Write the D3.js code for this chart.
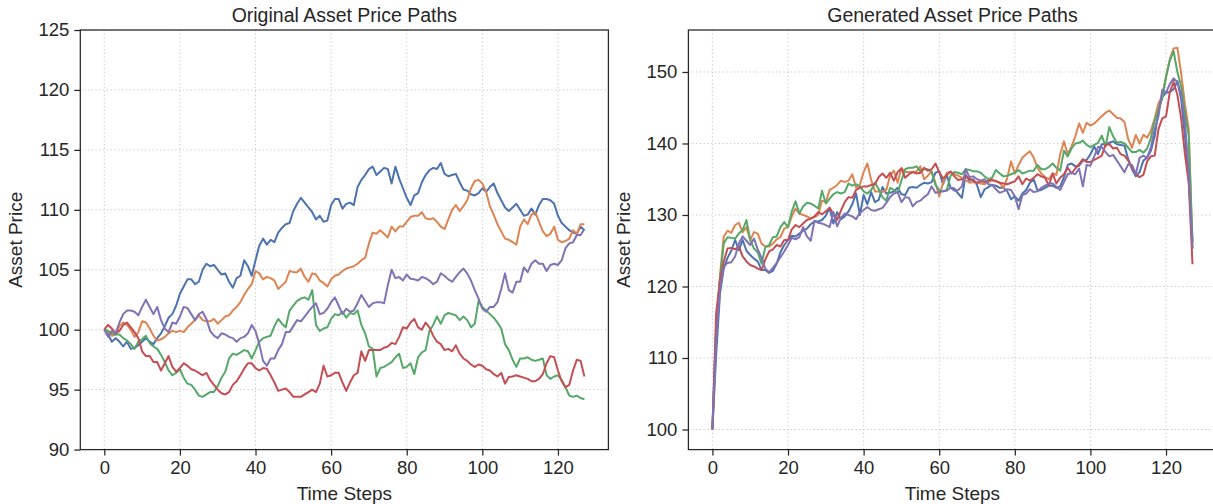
<!DOCTYPE html>
<html>
<head>
<meta charset="utf-8">
<script src="https://cdn.jsdelivr.net/npm/d3@7"></script>
<style>
  body { margin: 0; background: #fff; }
  svg { display: block; font-family: "Liberation Sans", Arial, sans-serif; }
</style>
</head>
<body>
<svg id="chart" width="1213" height="504"></svg>
<script>
// seaborn "deep" palette
var colors = ["#4C72B0", "#DD8452", "#55A868", "#C44E52", "#8172B3"];

// ---- Original paths, index = time step ----
var origBlue = [100.0,99.6,99.0,99.3,99.0,98.6,99.0,98.4,98.5,98.7,99.0,99.3,99.0,98.8,99.3,99.7,100.3,101.0,101.3,102.0,
  103.0,103.6,104.2,104.2,103.8,104.0,105.0,105.5,105.3,105.4,105.0,104.6,104.7,104.0,103.5,104.3,104.5,105.8,105.3,104.5,
  105.8,107.0,107.6,107.1,107.5,107.3,108.1,108.5,108.8,108.9,109.9,110.5,111.0,110.6,110.2,109.8,109.2,109.5,109.0,109.1,
  110.4,110.9,110.9,110.1,110.5,110.6,110.4,111.9,112.5,112.9,113.4,113.6,112.9,113.2,113.5,113.4,112.2,113.6,112.6,111.8,
  111.0,110.4,111.2,111.4,112.3,112.9,113.3,113.5,113.4,113.9,113.0,112.8,112.9,113.0,112.3,111.7,111.6,111.3,111.2,111.4,
  111.8,111.5,111.9,112.2,111.4,110.8,110.2,109.9,110.2,110.5,110.0,109.5,109.6,110.1,109.6,110.4,110.9,110.9,110.8,110.5,
  109.5,108.9,108.6,108.3,108.1,108.0,108.6,108.3];
var origOrange = [100.0,99.8,99.5,99.6,100.3,100.6,100.4,100.0,99.4,99.8,100.7,100.6,100.1,99.5,99.1,99.2,99.4,99.7,99.9,99.8,
  99.9,99.8,100.2,100.5,100.8,101.2,100.8,100.7,100.7,100.9,100.5,100.8,101.1,101.2,101.6,101.9,102.3,102.9,103.4,103.8,
  104.9,104.7,104.2,104.4,104.3,104.1,103.4,103.7,104.0,104.9,104.8,104.8,105.1,104.4,104.0,104.7,104.6,104.1,103.9,103.6,
  104.2,104.5,104.6,104.9,105.1,105.2,105.3,105.5,105.8,106.0,107.2,108.1,108.0,108.3,108.0,107.7,108.6,108.2,108.6,108.6,
  109.0,109.4,109.5,109.5,109.8,109.3,109.2,109.3,109.0,108.6,108.4,109.2,110.0,110.4,109.9,110.3,110.8,111.8,112.4,112.5,
  112.2,111.5,110.3,109.6,108.8,108.2,107.6,107.5,107.3,107.1,108.6,109.2,108.8,109.6,109.8,109.0,108.2,107.8,108.0,108.6,
  107.5,107.3,107.4,107.6,108.3,108.0,108.8,108.8];
var origGreen = [100.0,99.9,99.7,99.6,99.6,99.3,99.1,98.8,98.4,99.0,99.2,99.5,98.9,98.6,98.4,97.9,97.3,96.6,96.2,96.4,
  96.7,96.0,95.5,95.4,95.0,94.5,94.4,94.6,94.8,94.8,95.3,96.0,96.5,97.6,98.0,97.9,98.1,98.3,98.2,97.6,
  98.3,99.0,99.3,99.4,99.5,100.3,100.9,100.5,100.2,101.6,102.0,102.4,102.6,102.7,102.5,103.3,100.4,99.9,100.1,100.2,
  100.9,101.3,101.2,101.5,101.0,101.4,101.3,101.6,100.4,99.7,98.6,98.4,96.1,96.8,96.9,97.1,97.3,97.7,98.0,96.8,
  96.9,97.2,96.3,97.7,98.1,98.3,99.9,100.4,101.1,100.5,101.2,101.4,101.3,101.2,100.8,101.1,100.8,100.2,100.5,102.4,
  101.9,101.6,101.3,101.0,100.6,100.1,98.8,98.3,97.5,96.9,97.6,97.6,97.7,97.5,97.4,97.5,97.6,96.2,95.9,96.1,
  96.2,95.8,95.2,94.5,94.4,94.5,94.3,94.2];
var origRed = [100.0,100.4,100.1,99.7,99.9,100.4,100.6,100.2,99.8,99.3,98.2,97.8,97.8,97.3,97.3,96.6,97.2,97.8,96.9,96.5,
  96.8,97.2,97.0,96.7,96.6,96.4,96.2,96.4,95.8,95.4,95.0,94.7,94.6,94.8,95.4,95.7,96.2,96.75,97.2,97.2,
  96.8,96.6,96.8,96.75,96.2,95.6,94.9,95.0,95.1,94.8,94.4,94.4,94.4,94.6,94.8,95.0,94.8,95.5,97.0,96.1,
  96.2,96.4,96.4,95.6,94.9,95.6,96.2,96.4,98.2,97.4,98.3,98.3,98.3,98.3,98.5,98.6,98.9,98.8,99.4,100.2,
  100.1,100.6,100.9,100.2,100.0,100.6,100.2,99.5,99.0,98.8,98.3,98.4,98.2,98.7,98.0,97.6,97.4,97.1,96.9,97.1,
  97.0,96.7,96.6,96.3,96.1,96.4,95.5,96.05,96.1,96.2,96.1,96.0,95.9,95.7,95.7,95.9,96.3,97.2,97.8,97.7,
  96.6,95.7,95.2,95.4,96.6,97.5,97.4,96.1];
var origPurple = [100.0,99.4,99.9,99.7,100.6,101.3,101.6,101.6,101.5,101.2,101.9,102.5,101.9,101.3,101.9,100.8,100.1,99.8,100.6,100.5,
  101.1,101.9,101.8,101.3,100.8,101.3,101.5,100.9,99.9,99.5,99.3,99.7,99.6,99.4,99.3,99.0,99.3,99.4,99.7,100.4,
  99.9,98.8,97.4,97.0,97.6,97.6,98.3,98.8,99.8,99.8,100.3,100.8,100.7,101.1,101.5,101.9,102.2,101.3,101.4,101.75,
  102.3,102.7,102.0,101.3,101.75,101.5,101.6,102.2,102.9,102.4,101.9,102.2,102.3,102.3,102.2,103.7,105.0,104.3,104.4,104.1,
  104.6,104.25,104.2,104.1,104.4,104.3,104.1,103.8,104.0,104.7,104.5,104.2,104.0,104.4,104.8,105.1,104.7,104.1,103.3,102.6,
  101.75,101.5,101.9,101.9,102.3,103.4,104.7,103.3,103.1,104.0,104.0,105.2,104.8,105.5,105.8,105.5,105.5,104.9,105.4,105.5,
  105.4,105.8,106.8,107.2,107.3,107.9,107.9,108.4];

// ---- Generated paths ----
var genBlue = [100,110.5,119.0,122.5,124.0,125.0,126.5,125.1,126.5,125.0,124.4,123.9,123.5,122.3,122.3,121.9,122.2,123.2,124.8,125.8,
  126.5,127.1,127.0,127.4,127.8,128.1,128.7,129.1,129.1,129.3,129.9,131.0,128.8,130.4,129.4,129.8,130.5,131.5,133.0,130.0,
  132.8,131.5,133.2,131.8,132.1,133.9,133.0,133.1,133.3,133.8,132.9,132.8,133.8,133.9,133.8,134.2,134.5,134.4,134.6,135.9,
  136.1,134.3,135.6,133.8,133.7,133.0,132.4,135.6,134.8,135.0,134.2,132.5,133.6,133.9,134.2,134.1,133.8,133.8,133.3,132.2,
  132.6,132.0,133.0,133.5,134.5,135.0,133.4,133.5,133.8,134.1,134.1,133.8,134.0,135.3,137.0,137.2,136.8,136.9,137.6,137.7,
  138.5,139.6,138.5,139.9,139.9,140.1,140.3,139.9,139.8,139.7,137.8,136.4,135.4,136.0,137.6,138.0,139.0,141.0,144.6,146.5,
  147.1,147.2,147.6,148.7,146.2,141.0,135.0,126.2];
var genOrange = [100,114.0,121.5,127.0,127.8,127.5,128.6,128.9,127.6,128.3,126.5,127.6,127.4,126.0,125.6,125.6,126.0,126.6,126.9,128.1,
  128.3,129.8,130.9,130.2,130.0,129.8,129.5,129.7,130.0,132.0,131.8,133.5,133.8,134.2,134.8,134.6,134.8,135.7,133.8,134.2,
  136.0,137.2,134.9,133.3,133.3,133.2,133.5,135.5,136.2,134.5,136.6,136.0,136.0,136.0,136.1,136.8,135.0,135.5,136.1,134.5,
  132.6,134.5,135.9,136.0,135.7,135.5,135.2,134.9,134.5,134.6,134.5,134.4,134.3,134.6,134.9,134.8,134.5,133.8,135.2,137.5,
  135.8,137.0,138.0,138.5,138.9,138.0,136.6,135.8,135.3,135.0,135.8,135.6,138.5,140.3,138.5,139.6,141.0,142.8,141.5,142.9,
  142.5,142.8,143.3,143.8,144.3,144.6,144.1,143.6,143.5,143.0,140.6,139.4,141.2,140.0,141.2,140.8,141.8,143.5,145.6,146.7,
  149.4,151.8,153.3,153.4,149.8,145.5,142.0,125.3];
var genGreen = [100,115.0,121.0,126.0,126.9,126.8,126.7,127.4,127.9,129.3,126.5,125.3,124.8,123.2,125.5,125.8,126.9,127.0,128.3,129.0,
  128.3,130.5,131.9,130.2,131.2,131.7,131.6,131.3,130.9,133.4,131.6,132.3,132.9,133.2,133.0,133.2,134.4,134.1,134.3,134.0,
  133.3,133.0,133.5,134.5,133.6,132.5,132.0,133.8,133.5,133.1,134.8,136.4,136.6,136.6,136.8,136.1,136.4,136.4,136.0,134.2,
  133.5,133.3,133.5,135.5,136.0,135.9,135.7,136.4,136.3,136.1,136.1,135.9,135.4,135.0,135.2,136.3,135.8,135.4,135.5,135.7,
  135.9,136.3,135.8,136.0,136.2,136.2,137.0,136.4,136.4,136.7,137.2,136.6,136.2,139.0,138.2,139.3,140.0,140.1,140.4,139.8,
  139.5,139.8,140.1,141.1,139.6,142.3,141.0,140.1,140.2,140.0,139.4,138.8,138.8,139.1,138.7,139.3,140.8,143.2,144.8,146.3,
  149.3,151.6,152.9,150.0,148.0,144.3,141.1,126.2];
var genRed = [100,116.3,120.8,123.5,125.3,125.4,125.2,125.6,124.2,123.5,123.0,122.8,122.5,122.3,123.8,124.9,125.2,125.8,125.6,126.5,
  126.5,128.0,128.6,128.3,128.8,129.3,129.5,129.8,130.4,130.1,130.5,131.0,130.2,129.3,130.6,131.8,132.5,132.4,133.5,133.8,
  134.0,134.0,134.2,134.3,135.3,135.8,135.2,135.9,134.8,136.0,136.5,135.2,135.7,136.0,135.8,135.9,136.6,136.2,136.4,137.2,
  136.0,135.1,135.6,136.1,135.4,134.9,135.0,135.4,135.1,134.8,134.5,134.7,134.6,134.8,134.9,134.7,134.5,134.4,134.3,134.5,
  134.7,135.4,134.3,135.1,134.8,135.2,135.7,135.4,135.2,134.1,135.8,134.4,135.2,135.7,136.6,135.8,136.5,137.1,137.8,137.4,
  137.4,137.7,138.0,138.3,139.8,139.9,139.3,139.4,138.5,138.3,137.6,136.6,135.7,135.3,135.6,137.5,138.2,138.3,142.0,143.5,
  143.8,147.2,148.6,146.8,143.5,138.5,134.5,123.1];
var genPurple = [100,112.6,119.5,122.8,123.3,123.4,124.2,126.0,127.0,126.4,125.8,126.7,125.2,124.0,122.5,122.0,122.6,123.3,124.1,124.9,
  125.8,126.8,126.6,126.9,128.3,127.0,126.4,129.2,128.9,128.8,128.6,128.3,130.4,128.4,129.6,130.2,130.0,129.8,129.4,130.3,
  130.7,131.1,130.7,130.6,130.8,131.0,131.7,132.5,133.0,133.2,131.8,132.5,132.4,131.2,131.8,132.0,132.5,132.9,134.0,133.1,
  133.2,133.3,133.4,133.8,133.4,133.5,134.0,136.4,135.3,135.4,135.0,134.8,135.0,134.3,134.2,133.6,133.1,133.3,133.6,133.5,
  132.6,130.8,132.8,133.0,133.6,133.2,133.3,133.8,134.1,134.4,134.4,133.9,133.5,134.6,135.7,135.9,135.7,136.5,134.0,137.0,
  136.9,138.2,139.5,139.5,138.8,138.2,138.4,137.6,136.8,136.0,137.1,137.0,135.7,138.0,138.3,138.0,139.5,142.0,143.8,147.5,
  147.1,148.3,149.1,148.6,146.9,143.0,136.0,125.3];

var xTicks = [0, 20, 40, 60, 80, 100, 120];
var origYTicks = [90, 95, 100, 105, 110, 115, 120, 125];
var genYTicks = [100, 110, 120, 130, 140, 150];

var panels = [
  { title: "Original Asset Price Paths", left: 80.3,
    series: [origBlue, origOrange, origGreen, origRed, origPurple],
    yDomain: [90, 125], yTicks: origYTicks },
  { title: "Generated Asset Price Paths", left: 688.4,
    series: [genBlue, genOrange, genGreen, genRed, genPurple],
    yDomain: [97.19, 155.87], yTicks: genYTicks }
];

var plot = { top: 30, height: 419.6, width: 528.1 };
var ink = "#262626";
var svg = d3.select("#chart");

panels.forEach(function(p) {
  var g = svg.append("g")
    .attr("transform", "translate(" + p.left + "," + plot.top + ")");

  var x = d3.scaleLinear().domain([-6.35, 133.35]).range([0, plot.width]);
  var y = d3.scaleLinear().domain(p.yDomain).range([plot.height, 0]);

  // dotted grid
  var grid = g.append("g").attr("class", "grid")
    .attr("stroke", "#bdbdbd").attr("stroke-width", 0.9)
    .attr("stroke-dasharray", "1.2,2.6");
  grid.selectAll("line.gx").data(xTicks).enter().append("line")
    .attr("x1", d => x(d)).attr("x2", d => x(d))
    .attr("y1", 0).attr("y2", plot.height);
  grid.selectAll("line.gy").data(p.yTicks).enter().append("line")
    .attr("x1", 0).attr("x2", plot.width)
    .attr("y1", d => y(d)).attr("y2", d => y(d));

  // the paths
  var line = d3.line()
    .x(function(d, i) { return x(i); })
    .y(function(d) { return y(d); });

  g.append("g").selectAll("path")
    .data(p.series)
    .enter().append("path")
    .attr("d", line)
    .attr("fill", "none")
    .attr("stroke", (d, i) => colors[i])
    .attr("stroke-width", 2)
    .attr("stroke-linejoin", "round");

  // axes
  var xAxis = g.append("g")
    .attr("transform", "translate(0," + plot.height + ")")
    .call(d3.axisBottom(x).tickValues(xTicks).tickSize(6).tickPadding(5).tickSizeOuter(0));
  var yAxis = g.append("g")
    .call(d3.axisLeft(y).tickValues(p.yTicks).tickSize(6).tickPadding(5).tickSizeOuter(0));

  [xAxis, yAxis].forEach(function(a) {
    a.attr("font-family", null).attr("font-size", null);
    a.select(".domain").remove();
    a.selectAll(".tick line").attr("stroke", ink).attr("stroke-width", 1.25);
    a.selectAll(".tick text").attr("fill", ink).style("font-size", "18.5px");
  });

  // frame
  g.append("rect")
    .attr("width", plot.width).attr("height", plot.height)
    .attr("fill", "none").attr("stroke", ink).attr("stroke-width", 1.25);

  // titles and labels
  g.append("text")
    .attr("x", plot.width / 2).attr("y", -8)
    .attr("text-anchor", "middle")
    .attr("fill", ink)
    .style("font-size", "19.5px")
    .text(p.title);

  g.append("text")
    .attr("x", plot.width / 2).attr("y", plot.height + 50)
    .attr("text-anchor", "middle")
    .attr("fill", ink)
    .style("font-size", "19px")
    .text("Time Steps");

  g.append("text")
    .attr("transform", "translate(-58," + (plot.height / 2) + ") rotate(-90)")
    .attr("text-anchor", "middle")
    .attr("fill", ink)
    .style("font-size", "19px")
    .text("Asset Price");
});
</script>
</body>
</html>
